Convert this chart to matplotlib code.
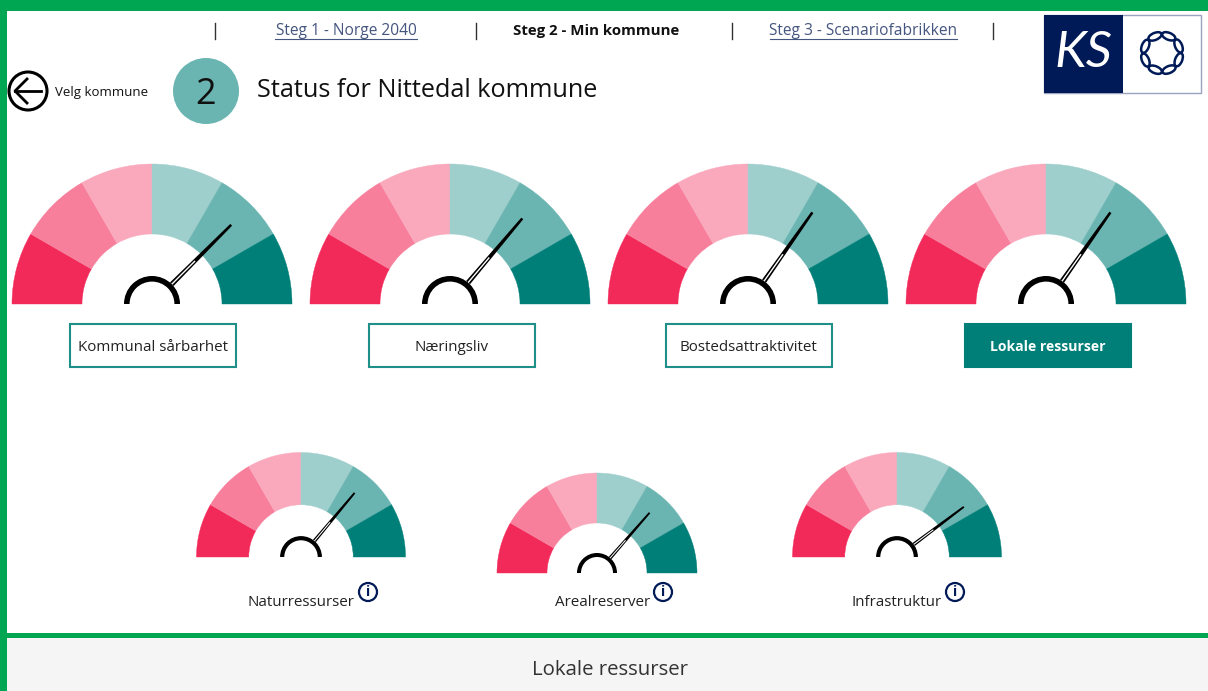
import matplotlib
matplotlib.use("Agg")
import matplotlib.pyplot as plt
from matplotlib.patches import Wedge, Circle, Rectangle, Ellipse, Polygon
import numpy as np

plt.rcParams["font.family"] = ["Open Sans", "DejaVu Sans"]

# gauge data
gauge_names = ["Kommunal sårbarhet", "Næringsliv", "Bostedsattraktivitet", "Lokale ressurser",
               "Naturressurser", "Arealreserver", "Infrastruktur"]
gauge_scores = [4.50, 4.34, 4.17, 4.17, 4.33, 4.37, 4.77]  # needle, scale 0-6
segment_sizes = [1, 1, 1, 1, 1, 1]
segment_colors = ["#F22A5A", "#F77F9B", "#FAA9BD", "#9FCFCD", "#6AB5B1", "#007F79"]

# layout in pixels
gauge_cx = [152, 450, 748, 1046, 301, 597, 897]
gauge_base = [304, 304, 304, 304, 557, 573, 557]
gauge_r = [140, 140, 140, 140, 104.5, 100, 104.5]

nav_labels = ["Steg 1 - Norge 2040", "Steg 2 - Min kommune", "Steg 3 - Scenariofabrikken"]
nav_x = [346, 596.5, 863.5]
sep_x = [215, 476, 732, 993]

button_x = [69, 368, 665, 964]
info_x = [368, 663, 955]
label_x = [300.5, 602.5, 896.5]

GREEN = "#00A651"
TEAL = "#007F79"
NAVY = "#001A57"
LINK = "#44557F"

fig = plt.figure(figsize=(12.08, 6.91), dpi=100)
ax = fig.add_axes([0, 0, 1, 1])
ax.set_xlim(0, 1208)
ax.set_ylim(691, 0)
ax.axis("off")


def draw_gauge(cx, base, r, score):
    edges = np.cumsum([0] + segment_sizes) / sum(segment_sizes) * 180 + 180
    for i, col in enumerate(segment_colors):
        ax.add_patch(Wedge((cx, base), r, edges[i], edges[i + 1], width=r / 2, fc=col, ec=col, lw=0.3))
    a = np.radians(180 * (1 - score / 6))
    d = np.array([np.cos(a), -np.sin(a)])
    n = np.array([d[1], -d[0]])
    hub = r * 0.2
    tip = np.array([cx, base]) + d * r * 0.80
    start = np.array([cx, base]) + d * hub
    w1 = r * 0.018
    w2 = r * 0.009
    ax.add_patch(Polygon([start + n * w1, start - n * w1, tip - n * w2, tip + n * w2],
                         fc="black", ec="none", zorder=4))
    # the white slit near the hub
    ax.plot(*zip(start, np.array([cx, base]) + d * r * 0.43), color="white", lw=1.0 * r / 140, zorder=5)
    ax.add_patch(Wedge((cx, base), hub, 180, 360, width=r * 0.04, fc="black", ec="none", zorder=6))


# frame
ax.add_patch(Rectangle((0, 637), 1208, 54, fc="#F5F5F5", ec="none"))
ax.add_patch(Rectangle((0, 0), 1208, 11, fc=GREEN, ec="none"))
ax.add_patch(Rectangle((0, 0), 7, 691, fc=GREEN, ec="none", zorder=8))
ax.add_patch(Rectangle((0, 633), 1208, 4.5, fc=GREEN, ec="none"))

# top nav
for x in sep_x:
    ax.plot([x, x], [23, 39], color="#333333", lw=1)
for i, (lab, x) in enumerate(zip(nav_labels, nav_x)):
    bold = i == 1
    ax.text(x, 31, lab, ha="center", va="center", fontsize=10.8 if bold else 11.2,
            fontweight="bold" if bold else "normal", color="#111111" if bold else LINK)
ax.plot([275, 417], [38.5, 38.5], color=LINK, lw=0.8)
ax.plot([770, 957], [38.5, 38.5], color=LINK, lw=0.8)

# back arrow
ax.add_patch(Circle((28, 91), 19, fc="white", ec="black", lw=2.2))
ax.plot([15, 41], [91, 91], color="black", lw=2)
ax.plot([27, 15, 27], [79, 91, 103], color="black", lw=2)
ax.text(55, 92, "Velg kommune", ha="left", va="center", fontsize=9.5, color="#111111")

# step circle and title
ax.add_patch(Circle((206, 91), 33, fc="#6AB5B1", ec="none"))
ax.text(205.5, 95, "2", ha="center", va="center", fontsize=26, color="#111111")
ax.text(257, 90, "Status for Nittedal kommune", ha="left", va="center", fontsize=18.2, color="#111111")

# logo
ax.add_patch(Rectangle((1044, 15), 157, 78, fc="white", ec="#9AA3BF", lw=1))
ax.add_patch(Rectangle((1044, 15), 79, 78, fc=NAVY, ec="none"))
ax.text(1083, 53, "KS", ha="center", va="center", fontsize=37, color="white", style="italic",
        family="Lato")
for t in np.arange(0, 360, 45):
    tr = np.radians(t + 22)
    ax.add_patch(Ellipse((1162 + 18 * np.cos(tr), 53 + 18 * np.sin(tr)), 14, 7,
                         angle=t + 112, fc="none", ec=NAVY, lw=1.8))

# gauges
for cx, base, r, score in zip(gauge_cx, gauge_base, gauge_r, gauge_scores):
    draw_gauge(cx, base, r, score)

# buttons
for i, x in enumerate(button_x):
    active = i == 3
    ax.add_patch(Rectangle((x + 0.5, 324), 166.5, 43, fc=TEAL if active else "white",
                           ec=TEAL if active else "#1F8F89", lw=1.5))
    ax.text(x + 83.5, 347, gauge_names[i], ha="center", va="center", fontsize=10.1 if active else 10.9,
            color="white" if active else "#222222", fontweight="bold" if active else "normal")

# lower labels with info icons
for name, lx, ix in zip(gauge_names[4:], label_x, info_x):
    ax.text(lx, 602, name, ha="center", va="center", fontsize=10.9, color="#222222")
    ax.add_patch(Circle((ix, 592), 9, fc="white", ec=NAVY, lw=1.6))
    ax.text(ix, 592, "i", ha="center", va="center", fontsize=10, color=NAVY, fontweight="bold")

ax.text(609.5, 670, "Lokale ressurser", ha="center", va="center", fontsize=14.7, color="#333333")

fig.savefig("out.png", dpi=100)
